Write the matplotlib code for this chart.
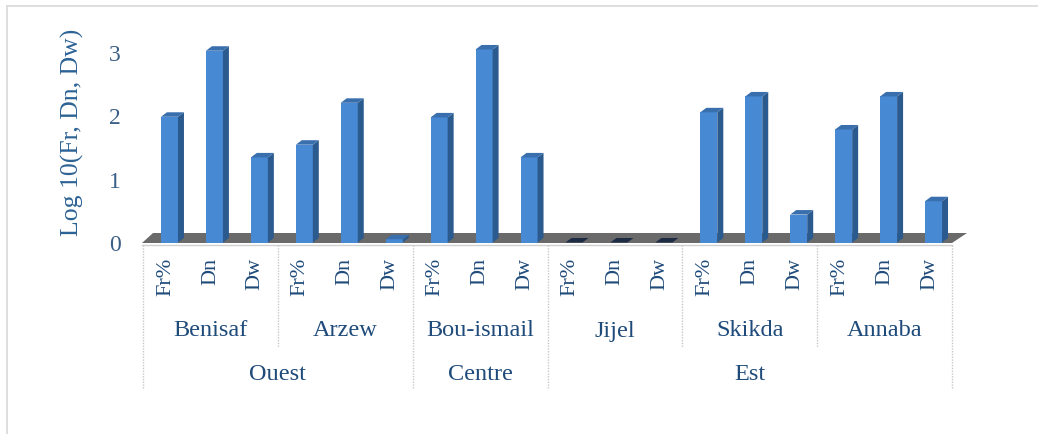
import numpy as np
import matplotlib
matplotlib.use('Agg')
import matplotlib.pyplot as plt
from matplotlib.patches import Polygon, Rectangle
from matplotlib.lines import Line2D

plt.rcParams['font.family'] = ['Liberation Serif', 'DejaVu Serif']

# data (log10 values)
regions = ['Ouest', 'Centre', 'Est']
sites_per_region = [2, 1, 3]
sites = ['Benisaf', 'Arzew', 'Bou-ismail', 'Jijel', 'Skikda', 'Annaba']
params = ['Fr%', 'Dn', 'Dw']
fr = [1.98, 1.54, 1.97, 0.0, 2.05, 1.78]
dn = [3.02, 2.20, 3.04, 0.0, 2.30, 2.30]
dw = [1.34, 0.05, 1.34, 0.0, 0.44, 0.65]

W, H = 1038, 434
x0_px, x1_px, y0_px = 143, 952, 243     # plot area in pixels
nslots = len(sites) * len(params)
PX_X = (x1_px - x0_px) / nslots          # px per slot
PX_Y = 63.5                              # px per unit
ymax = 3.3

txt_col = '#1f4b7a'
lab_col = '#2c6294'
front_col, side_col, top_col = '#4889d3', '#2b5a8f', '#3a6fae'

fig = plt.figure(figsize=(W / 100, H / 100), dpi=100)
ax = fig.add_axes([x0_px / W, (H - y0_px) / H, (x1_px - x0_px) / W, ymax * PX_Y / H])
ax.set_xlim(0, nslots)
ax.set_ylim(0, ymax)
for s in ax.spines.values():
    s.set_visible(False)
ax.set_xticks([])
ax.set_yticks([0, 1, 2, 3])
ax.tick_params(axis='y', length=0, pad=16, labelsize=17, labelcolor='#3a5f86')

def dx(px): return px / PX_X
def dy(px): return px / PX_Y
def ypx(px): return -(px - y0_px) / PX_Y

# floor
floor = Polygon([(dx(-1), 0), (nslots, 0), (nslots + dx(15), dy(10)), (dx(10), dy(10))],
                closed=True, facecolor='#6a6a6a', edgecolor='none', zorder=1, clip_on=False)
ax.add_patch(floor)
ax.plot([dx(-1), nslots], [dy(-1.5), dy(-1.5)], color='#d0d0d0', lw=1, zorder=1, clip_on=False)

# bars
vals = np.array([fr, dn, dw]).T.flatten()
bw, sd, tr = dx(17), dx(6), dy(4.5)
for i, v in enumerate(vals):
    xl = i + 0.5 - bw / 2 + dx(4)
    xr = xl + bw
    yb = dy(0.5)
    ax.add_patch(Rectangle((xl, yb), bw, v, facecolor=front_col, edgecolor='none', zorder=3, clip_on=False))
    ax.add_patch(Polygon([(xr, yb), (xr + sd, yb + tr), (xr + sd, yb + v + tr), (xr, yb + v)],
                         facecolor=side_col, edgecolor='none', zorder=3, clip_on=False))
    tc = top_col if v > 0 else '#1d2b45'
    ax.add_patch(Polygon([(xl, yb + v), (xl + sd, yb + v + tr), (xr + sd, yb + v + tr), (xr, yb + v)],
                         facecolor=tc, edgecolor='none', zorder=3, clip_on=False))

# category labels
for i in range(nslots):
    ax.text(i + 0.5, ypx(258), params[i % 3], rotation=90, ha='center', va='top',
            fontsize=16, color=txt_col, clip_on=False)
for j, name in enumerate(sites):
    ax.text(3 * j + 1.5, ypx(331), name, ha='center', va='center', fontsize=17.5,
            color=txt_col, clip_on=False)

bounds = np.cumsum([0] + sites_per_region) * 3
for k, name in enumerate(regions):
    ax.text((bounds[k] + bounds[k + 1]) / 2, ypx(374), name, ha='center', va='center',
            fontsize=17.5, color=txt_col, clip_on=False)

for b in range(0, nslots + 1, 3):
    bottom = ypx(388) if b in bounds else ypx(347)
    ax.plot([b, b], [ypx(245), bottom], color='#c8c8c8', lw=1, ls=(0, (1, 1)), clip_on=False)

fig.text(72 / W, 1 - 132 / H, 'Log 10(Fr, Dn, Dw)', rotation=90, ha='center', va='center',
         fontsize=18.5, color=lab_col)

# outer frame (top and left only visible)
fig.add_artist(Line2D([7 / W, 1], [1 - 6 / H, 1 - 6 / H], color='#d9d9d9', lw=1.2))
fig.add_artist(Line2D([7 / W, 7 / W], [0, 1 - 6 / H], color='#d9d9d9', lw=1.2))

fig.savefig('out.png', dpi=100)
